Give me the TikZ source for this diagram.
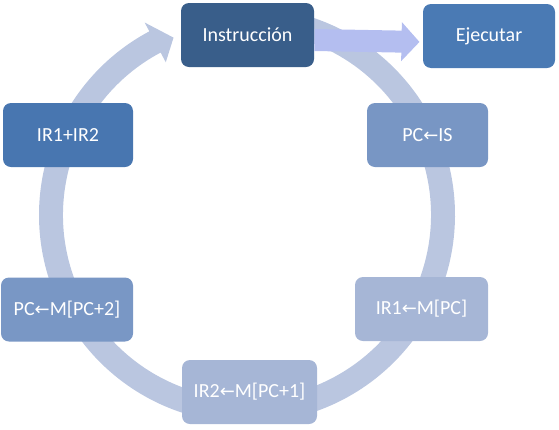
\documentclass[tikz,border=0pt]{standalone}
\usepackage{fontspec}
\setmainfont{Carlito}
\newfontfamily\arrowfont{DejaVu Sans}
\usetikzlibrary{arrows.meta}

\newcommand{\lar}{{\arrowfont\fontsize{13.5}{13.5}\selectfont ←}}

\tikzset{every picture/.style={line width=0.75pt}}
\tikzset{cyclebox/.style={rounded corners=6pt, inner sep=0pt, text=white, font=\fontsize{15}{18}\selectfont, minimum height=48pt}}

\begin{document}
\begin{tikzpicture}[x=0.75pt,y=0.75pt,yscale=-1,xscale=1]
    \useasboundingbox (0,0) rectangle (559,429);
    %Shape: Circular Arrow
    \begin{scope}[shift={(247,215)},yscale=-1]
    \fill [color={rgb, 255:red, 186; green, 198; blue, 224 }] (88:208) arc [start angle=88, end angle=-242, radius=208] -- (-242:218) -- (-247.5:192) -- (-242:173) -- (-242:184) arc [start angle=-242, end angle=88, radius=184] -- cycle ;
    \end{scope}
    % Text Node
    \draw (247.5,35) node [cyclebox, minimum width=99.75pt, fill={rgb, 255:red, 57; green, 94; blue, 138 }] (ins) {Instrucción};
    % Text Node
    \draw (489,36) node [cyclebox, minimum width=99pt, fill={rgb, 255:red, 74; green, 122; blue, 180 }] (eje) {Ejecutar};
    % Text Node
    \draw (427.5,135) node [cyclebox, minimum width=90.75pt, fill={rgb, 255:red, 120; green, 150; blue, 196 }] (pcis) {PC\lar IS};
    % Text Node
    \draw (421.5,309) node [cyclebox, minimum width=99.75pt, fill={rgb, 255:red, 166; green, 182; blue, 214 }] (irone) {IR1\lar M[PC]};
    % Text Node
    \draw (249.5,392) node [cyclebox, minimum width=101.25pt, fill={rgb, 255:red, 166; green, 182; blue, 214 }] (irtwo) {IR2\lar M[PC+1]};
    % Text Node
    \draw (67,309.5) node [cyclebox, minimum width=99pt, fill={rgb, 255:red, 121; green, 151; blue, 197 }] (pcm) {PC\lar M[PC+2]};
    % Text Node
    \draw (68,135) node [cyclebox, minimum width=97.5pt, fill={rgb, 255:red, 72; green, 118; blue, 176 }] (irsum) {IR1+IR2};
    %Right Arrow
    \draw [color={rgb, 255:red, 180; green, 190; blue, 240 }, line width=16.5pt, -{Triangle[length=13.5pt, width=28.5pt]}, shorten >=2.25pt] ([yshift=3.75pt]ins.east) -- ([yshift=4.5pt]eje.west) ;
\end{tikzpicture}
\end{document}
